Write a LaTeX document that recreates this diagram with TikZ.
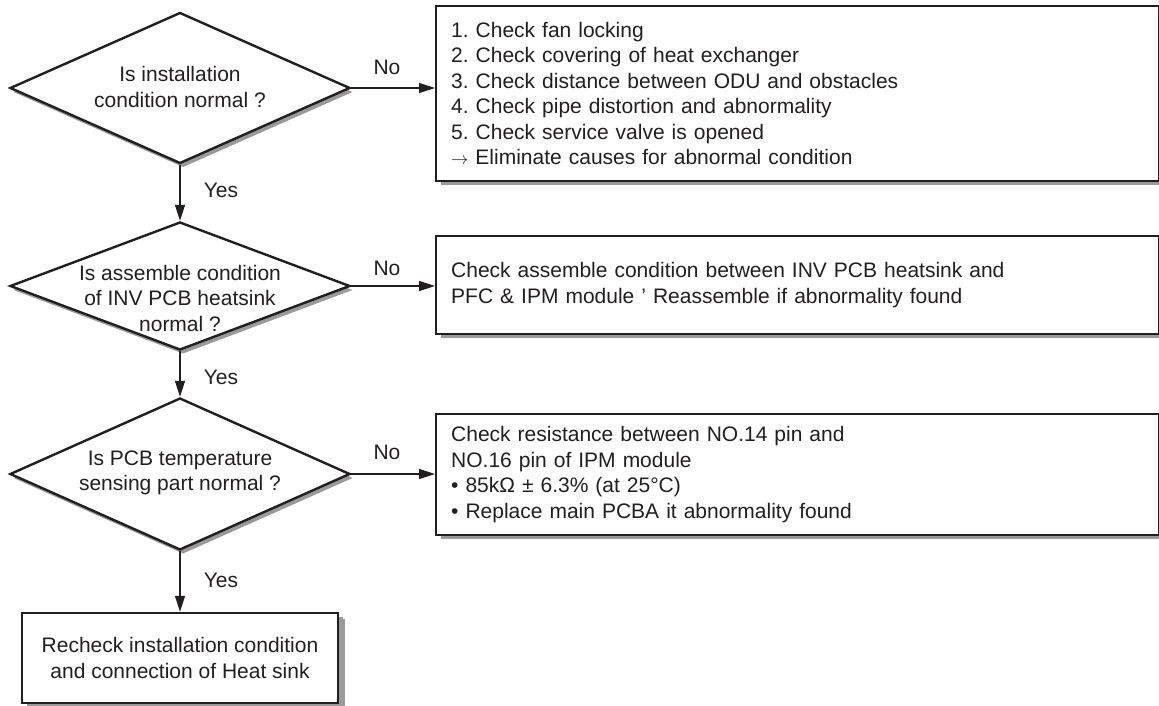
\documentclass[tikz,border=0pt]{standalone}
\usepackage{fontspec}
\setmainfont{Liberation Sans}
\usetikzlibrary{shapes.geometric,shadows,arrows.meta}
\definecolor{ink}{HTML}{231F20}
\definecolor{shade}{HTML}{9A9A9A}
\frenchspacing
\begin{document}
\begin{tikzpicture}[x=1pt,y=-1pt,
  every node/.style={font=\fontsize{21}{25.5}\selectfont, text=ink},
  dia/.style={diamond, draw=ink, line width=2.4pt, fill=white, inner sep=0pt,
    drop shadow={shadow xshift=3pt, shadow yshift=-4pt, fill=shade, opacity=1}},
  box/.style={rectangle, draw=ink, line width=2.4pt, fill=white, inner xsep=15pt, inner ysep=0pt,
    align=left, anchor=north west,
    drop shadow={shadow xshift=5pt, shadow yshift=-4pt, fill=shade, opacity=1}},
  dtext/.style={align=center, inner sep=0pt},
  conn/.style={draw=ink, line width=1.4pt, -{Triangle[length=16pt,width=10pt]}},
  lbl/.style={inner sep=0pt}]
\useasboundingbox (0,0) rectangle (1159,706);

% decisions
\node[dia, minimum width=340pt, minimum height=151pt] (d1) at (180,88) {};
\node[dtext] (d1t) at (180,87) {Is installation\\condition normal ?};
\node[dia, minimum width=340pt, minimum height=128pt] (d2) at (180,286) {};
\node[dtext] (d2t) at (180,298) {Is assemble condition\\of INV PCB heatsink\\normal ?};
\node[dia, minimum width=340pt, minimum height=152pt] (d3) at (180,474) {};
\node[dtext] (d3t) at (180,473) {Is PCB temperature\\sensing part normal ?};

% action boxes
\node[box, minimum width=723pt, minimum height=175pt, text width=693pt] (b1) at (435,5)
  {1. Check fan locking\\
   2. Check covering of heat exchanger\\
   3. Check distance between ODU and obstacles\\
   4. Check pipe distortion and abnormality\\
   5. Check service valve is opened\\
   {\fontsize{17}{25.5}\selectfont$\rightarrow$} Eliminate causes for abnormal condition};
\node[box, minimum width=723pt, minimum height=98pt, text width=693pt] (b2) at (435,235)
  {Check assemble condition between INV PCB heatsink and\\
   PFC \& IPM module ’ Reassemble if abnormality found};
\node[box, minimum width=723pt, minimum height=121pt, text width=693pt] (b3) at (435,413)
  {Check resistance between NO.14 pin and\\
   NO.16 pin of IPM module\\
   • 85kΩ ± 6.3\% (at 25°C)\\
   • Replace main PCBA it abnormality found};
\node[box, anchor=center, align=center, minimum width=316pt, minimum height=90pt,
  drop shadow={shadow xshift=7pt, shadow yshift=-6pt, fill=shade, opacity=1}] (b4) at (180,658)
  {Recheck installation condition\\and connection of Heat sink};

% connectors
\draw[conn] (d1.east) -- (d1.east -| b1.west);
\draw[conn] (d2.east) -- (d2.east -| b2.west);
\draw[conn] (d3.east) -- (d3.east -| b3.west);
\draw[conn] (d1.south) -- (d2.north);
\draw[conn] (d2.south) -- (d3.north);
\draw[conn] (d3.south) -- (b4.north);

% labels
\node[lbl] (no1) at (387,67) {No};
\node[lbl] (no2) at (387,268) {No};
\node[lbl] (no3) at (387,452) {No};
\node[lbl] (yes1) at (221,190) {Yes};
\node[lbl] (yes2) at (221,377) {Yes};
\node[lbl] (yes3) at (221,580) {Yes};
\end{tikzpicture}
\end{document}
